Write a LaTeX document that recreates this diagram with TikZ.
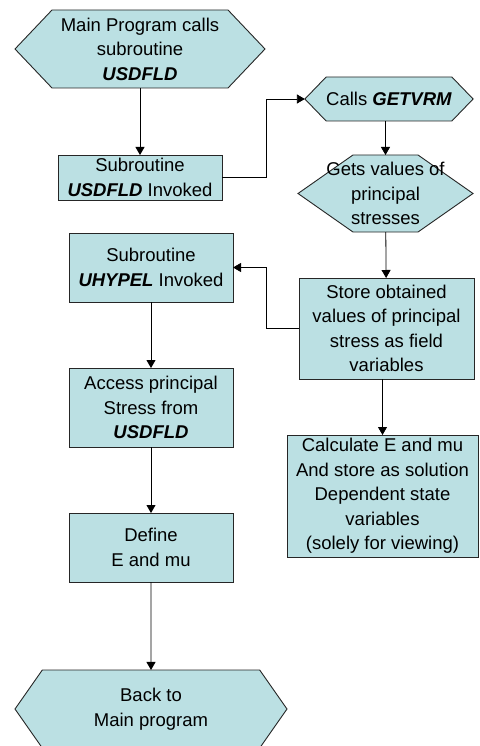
\documentclass[tikz,border=0pt]{standalone}
\usepackage{fontspec}
\setmainfont{Liberation Sans}
\usetikzlibrary{positioning,arrows.meta,shapes.symbols}
\definecolor{flowfill}{HTML}{BBE0E3}
\newcommand{\prog}[1]{\textbf{\textit{#1}}}
\newcommand{\zerowd}[1]{\makebox[0pt]{#1}}

\begin{document}
\begin{tikzpicture}[x=1pt,y=-1pt,
  box/.style={draw=black!85,line width=0.9pt,fill=flowfill,align=center,
    inner sep=0pt,outer sep=0pt,font=\fontsize{18.5}{24.5}\selectfont},
  hexa/.style={box,shape=signal,signal to=east and west},
  arr/.style={-{Triangle[length=8pt,width=9pt]},line width=0.8pt}]
\useasboundingbox (0,0) rectangle (479,746);

% left column
\node[hexa,minimum width=250pt,minimum height=78pt,signal pointer angle=93] (main) at (140,49)
  {Main Program calls\\subroutine\\\prog{USDFLD}};
\node[box,minimum width=164pt,minimum height=45pt] (usd) at (140,177.5)
  {Subroutine\\\prog{USDFLD} Invoked};
\node[box,minimum width=164pt,minimum height=69pt] (uhypel) at (151,267.5)
  {Subroutine\\\prog{UHYPEL} Invoked};
\node[box,minimum width=164pt,minimum height=79pt] (access) at (151,407.5)
  {Access principal\\Stress from\\\prog{USDFLD}};
\node[box,minimum width=164pt,minimum height=69pt] (define) at (151,547.5)
  {Define\\E and mu};
\node[hexa,minimum width=272pt,minimum height=78pt,signal pointer angle=110] (back) at (151,709)
  {Back to\\Main program};

% right column
\node[hexa,minimum width=162pt,minimum height=44pt,signal pointer angle=92] (getvrm) at (389,99)
  {Calls \prog{GETVRM}};
\node[hexa,minimum width=175pt,minimum height=77pt,signal pointer angle=70] (gets) at (385.5,193.5)
  {\zerowd{Gets values of}\\\zerowd{principal}\\\zerowd{stresses}};
\node[box,minimum width=175pt,minimum height=101pt] (store) at (386.5,328.5)
  {Store obtained\\values of principal\\stress as field\\variables};
\node[box,minimum width=191pt,minimum height=122pt] (calc) at (382.5,496)
  {Calculate E and mu\\And store as solution\\Dependent state\\variables\\(solely for viewing)};

% connectors
\draw[arr] (main) -- (usd);
\draw[arr] (usd.east) -- ++(44,0) |- (getvrm.west);
\draw[arr] (getvrm.south -| gets.north) -- (gets.north);
\draw[arr] (gets) -- (store);
\draw[arr] (store.west) -- ++(-33,0) |- (uhypel.east);
\draw[arr] (store.south -| calc.north) -- (calc.north);
\draw[arr] (uhypel) -- (access);
\draw[arr] (access) -- (define);
\draw[arr] (define) -- (back);
\end{tikzpicture}
\end{document}
